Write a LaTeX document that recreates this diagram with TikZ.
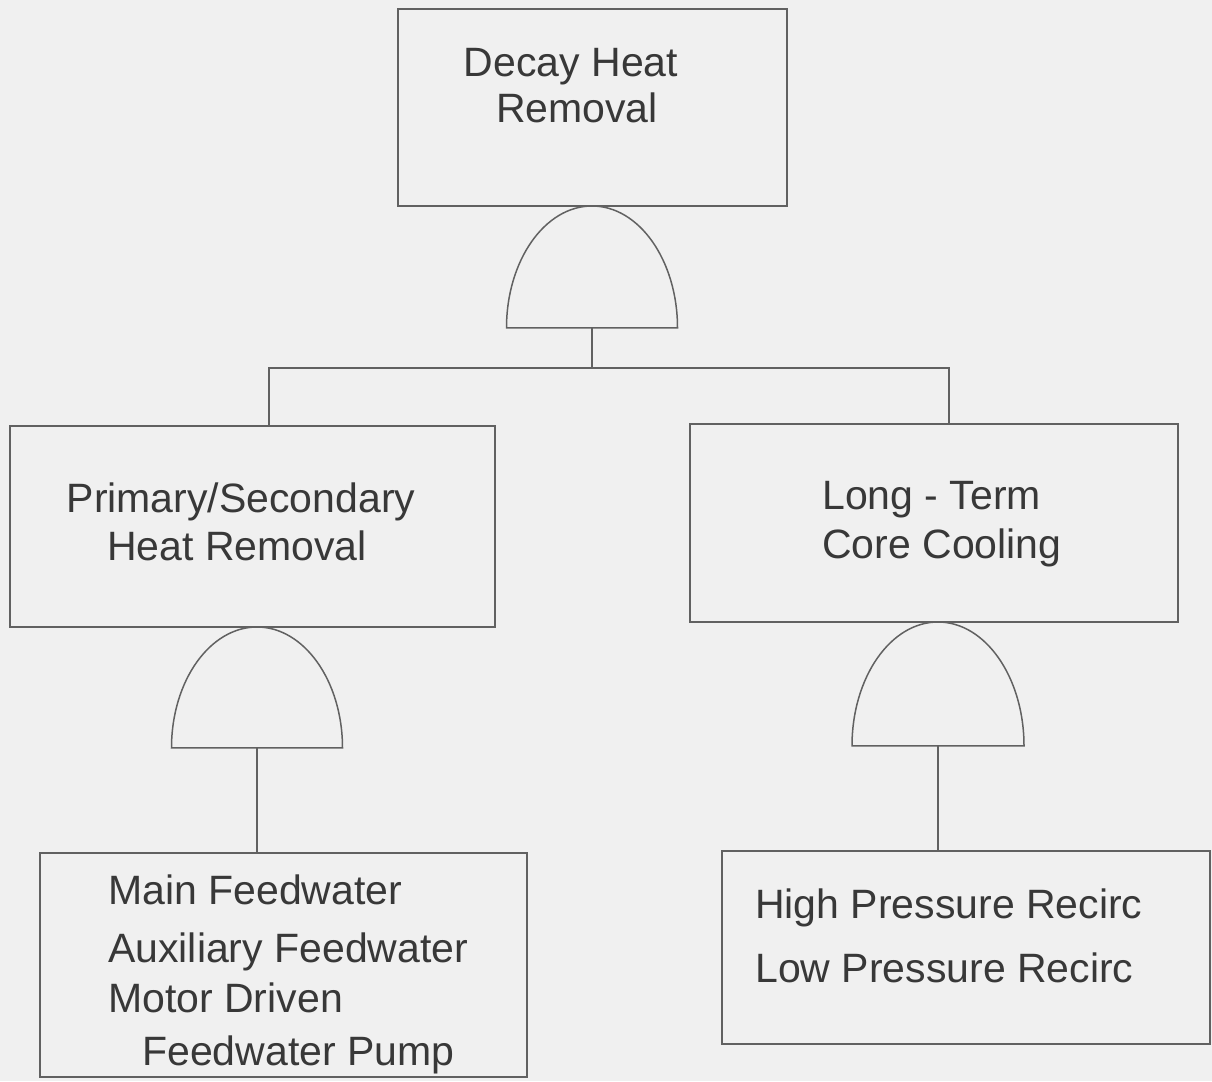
\documentclass[tikz,border=0pt]{standalone}
\usepackage{fontspec}
\setmainfont{Liberation Sans}
\begin{document}
\begin{tikzpicture}[x=1pt,y=1pt,
  ln/.style={draw=black!62,line width=1.5pt},
  box/.style={ln,rectangle,inner sep=0pt},
  gate/.style={ln,fill=none},
  lbl/.style={text=black!78,inner sep=0pt,font=\fontsize{41}{46}\selectfont}]
\useasboundingbox[fill=black!6] (0,0) rectangle (1212,1081);
% boxes
\node[box,minimum width=389pt,minimum height=197pt] (top) at (592.5,973.5) {};
\node[box,minimum width=485pt,minimum height=201pt] (psh) at (252.5,554.5) {};
\node[box,minimum width=488pt,minimum height=198pt] (ltc) at (934,558) {};
\node[box,minimum width=487pt,minimum height=224pt] (fw) at (283.5,116) {};
\node[box,minimum width=488pt,minimum height=193pt] (rc) at (966,133.5) {};
% labels
\node[lbl,anchor=base] (t1) at (571,1004) {Decay Heat};
\node[lbl,anchor=base] (t2) at (577,958) {Removal};
\node[lbl,anchor=base] (p1) at (241,568) {Primary/Secondary};
\node[lbl,anchor=base] (p2) at (237,520) {Heat Removal};
\node[lbl,anchor=base west] (l1) at (822,571) {Long - Term};
\node[lbl,anchor=base west] (l2) at (822,522) {Core Cooling};
\node[lbl,anchor=base west] (f1) at (108,176) {Main Feedwater};
\node[lbl,anchor=base west] (f2) at (108,118) {Auxiliary Feedwater};
\node[lbl,anchor=base west] (f3) at (108,68) {Motor Driven};
\node[lbl,anchor=base west] (f4) at (142,16) {Feedwater Pump};
\node[lbl,anchor=base west] (r1) at (755,162) {High Pressure Recirc};
\node[lbl,anchor=base west] (r2) at (755,98) {Low Pressure Recirc};
% AND gates
\coordinate (g1) at (592,753);
\coordinate (g2) at (257,333);
\coordinate (g3) at (938,335);
\draw[gate] ([xshift=-85.5pt]g1) -- ([xshift=85.5pt]g1) arc[start angle=0,end angle=180,x radius=85.5,y radius=122] -- cycle;
\draw[gate] ([xshift=-85.5pt]g2) -- ([xshift=85.5pt]g2) arc[start angle=0,end angle=180,x radius=85.5,y radius=121] -- cycle;
\draw[gate] ([xshift=-86pt]g3) -- ([xshift=86pt]g3) arc[start angle=0,end angle=180,x radius=86,y radius=124] -- cycle;
% connectors
\coordinate (bus) at (592,713);
\draw[ln] (g1) -- (bus);
\draw[ln] (bus) -- (269,713) -- (269,655.5);
\draw[ln] (bus) -- (949,713) -- (949,657);
\draw[ln] (g2) -- (g2 |- fw.north);
\draw[ln] (g3) -- (g3 |- rc.north);
\end{tikzpicture}
\end{document}
